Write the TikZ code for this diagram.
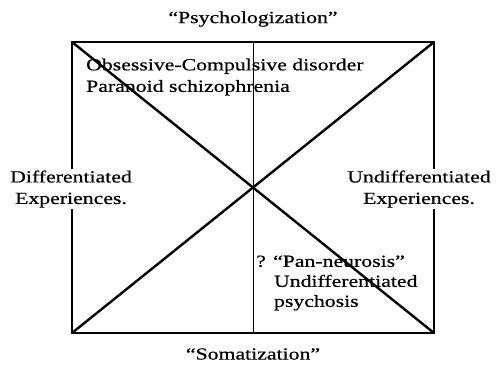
\documentclass[tikz,border=0pt]{standalone}
\usepackage{fontspec}
\setmainfont{Liberation Serif}[FakeStretch=1.28,FakeBold=0.6]
\begin{document}
\begin{tikzpicture}[x=1pt,y=-1pt,
  lbl/.style={font=\fontsize{17}{21.5}\selectfont, inner sep=1pt},
  side/.style={lbl, fill=white, align=center},
  note/.style={lbl, align=left, anchor=west},
  frame/.style={line width=2pt},
  diag/.style={line width=2.4pt},
  axis/.style={line width=0.8pt}]
\useasboundingbox (0,0) rectangle (496,367);
\coordinate (tl) at (72,42);
\coordinate (tr) at (434,42);
\coordinate (bl) at (72,333);
\coordinate (br) at (434,333);
\coordinate (tm) at (253,42);
\coordinate (bm) at (253,333);
\draw[frame] (tl) -- (tr) -- (br) -- (bl) -- cycle;
\draw[axis] (tm) -- (bm);
\draw[diag] (tl) -- (br);
\draw[diag] (tr) -- (bl);
\node[lbl] (top) at (253,19) {``Psychologization''};
\node[lbl] (bot) at (253,354) {``Somatization''};
\node[side] (left) at (71,189) {Differentiated\\Experiences.};
\node[side] (right) at (419,189) {Undifferentiated\\Experiences.};
\node[note] (tlnote) at (85,77) {Obsessive-Compulsive disorder\\Paranoid schizophrenia};
\node[note,font=\fontsize{17}{20}\selectfont] (brnote) at (255,283) {? ``Pan-neurosis''\\\hspace{1.05em}Undifferentiated\\\hspace{1.05em}psychosis};
\end{tikzpicture}
\end{document}
